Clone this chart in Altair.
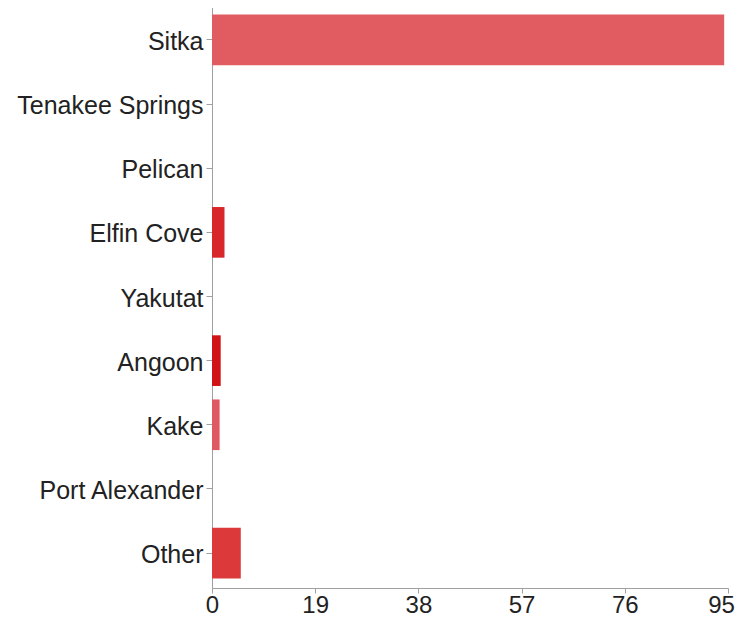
import altair as alt
import pandas as pd

categories = ["Sitka", "Tenakee Springs", "Pelican", "Elfin Cove", "Yakutat",
              "Angoon", "Kake", "Port Alexander", "Other"]
values = [94.3, 0, 0, 2.3, 0, 1.6, 1.4, 0, 5.3]
bar_colors = ["#e05c60", "#e05c60", "#e05c60", "#d8272b", "#e05c60",
              "#d01317", "#e05962", "#e05c60", "#dc3a3a"]
x_ticks = [0, 19, 38, 57, 76, 95]

df = pd.DataFrame({"category": categories, "value": values})

font = "Liberation Sans"

chart = alt.Chart(df).mark_bar().encode(
    y=alt.Y("category:N", sort=categories,
            scale=alt.Scale(paddingInner=0.21, paddingOuter=0.15),
            axis=alt.Axis(title=None, labelFontSize=25, labelFont=font,
                          labelColor="#222222", domainColor="#a0a0a0",
                          tickColor="#a0a0a0", tickSize=6, labelPadding=3,
                          labelLimit=400, labelOffset=2, grid=False)),
    x=alt.X("value:Q", scale=alt.Scale(domain=[0, 95], nice=False),
            axis=alt.Axis(title=None, values=x_ticks, labelFontSize=24,
                          labelFont=font, labelColor="#222222",
                          domainColor="#a0a0a0", tickColor="#a0a0a0",
                          tickSize=5, labelPadding=0, grid=False,
                          labelFlush=False,
                          labelOffset={"condition": {"test": "datum.value == 95", "value": -7},
                                       "value": 0})),
    color=alt.Color("category:N", scale=alt.Scale(domain=categories, range=bar_colors),
                    legend=None),
).properties(
    width=516, height=583,
    autosize=alt.AutoSizeParams(type="none"),
    padding={"left": 204, "top": -3, "right": 7, "bottom": 30},
).configure_view(stroke=None)

chart.save("out.html", embed_options={"renderer": "svg", "actions": False})
